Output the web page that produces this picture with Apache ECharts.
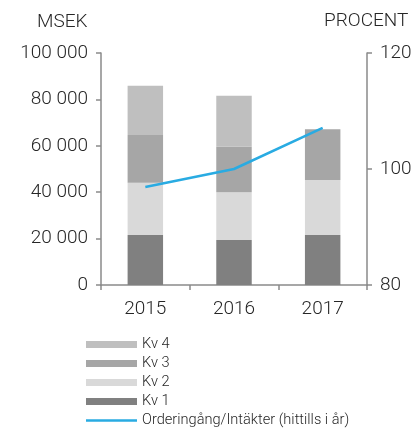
<!DOCTYPE html>
<html><head><meta charset="utf-8">
<script src="https://cdn.jsdelivr.net/npm/echarts@6/dist/echarts.min.js"></script>
<style>html,body{margin:0;padding:0;background:#fff}#c{width:415px;height:428px}</style>
</head><body><div id="c"></div>
<script>
const categories = ['2015', '2016', '2017'];
const kv1 = [21500, 19400, 21500];
const kv2 = [22600, 20600, 23800];
const kv3 = [20600, 19600, 21800];
const kv4 = [21200, 22000, null];
const orderRatio = [96.9, 100.0, 107.1];
const leftTicks = { min: 0, max: 100000, interval: 20000 };
const rightTicks = { min: 80, max: 120, interval: 20 };

const FONT = 'Roboto, "Liberation Sans", sans-serif';
const TXT = '#262626';
const AX = '#8a8a8a';
const FS = 19;
const chart = echarts.init(document.getElementById('c'), null, { renderer: 'canvas' });
const barBase = { type: 'bar', stack: 'q', barWidth: '40%', yAxisIndex: 0 };
chart.setOption({
  animation: false,
  textStyle: { fontFamily: FONT, fontWeight: 300 },
  grid: { left: 101, right: 48, top: 53, bottom: 143, containLabel: false },
  graphic: [
    { type: 'text', left: 37, top: 13, style: { text: 'MSEK', font: '300 19px ' + FONT, fill: TXT } },
    { type: 'text', left: 324, top: 12, style: { text: 'PROCENT', font: '300 19px ' + FONT, fill: TXT } }
  ],
  legend: {
    orient: 'vertical', left: 86, top: 337, height: 91, padding: 0,
    itemWidth: 51, itemHeight: 7, itemGap: 4, symbolKeepAspect: true,
    textStyle: { fontSize: 14.6, color: TXT, fontFamily: FONT, fontWeight: 300 },
    data: [
      { name: 'Kv 4', icon: 'rect' }, { name: 'Kv 3', icon: 'rect' },
      { name: 'Kv 2', icon: 'rect' }, { name: 'Kv 1', icon: 'rect' },
      { name: 'Orderingång/Intäkter (hittills i år)', icon: 'path://M0,0L51,0L51,2.5L0,2.5Z' }
    ]
  },
  xAxis: {
    type: 'category', data: categories,
    axisLine: { lineStyle: { color: AX, width: 1.5 } },
    axisTick: { show: true, alignWithLabel: false, length: 5, lineStyle: { color: AX, width: 1.5 } },
    axisLabel: { fontSize: FS, color: TXT, margin: 15, fontWeight: 300 }
  },
  yAxis: [
    { type: 'value', min: leftTicks.min, max: leftTicks.max, interval: leftTicks.interval,
      splitLine: { show: false },
      axisLine: { show: true, lineStyle: { color: AX, width: 1.5 } },
      axisTick: { show: true, length: 5, lineStyle: { color: AX, width: 1.5 } },
      axisLabel: { fontSize: FS, color: TXT, margin: 13, fontWeight: 300,
        formatter: v => String(v).replace(/\B(?=(\d{3})+(?!\d))/g, ' ') } },
    { type: 'value', position: 'right', min: rightTicks.min, max: rightTicks.max, interval: rightTicks.interval,
      splitLine: { show: false },
      axisLine: { show: true, lineStyle: { color: AX, width: 1.5 } },
      axisTick: { show: true, length: 5, lineStyle: { color: AX, width: 1.5 } },
      axisLabel: { fontSize: FS, color: TXT, margin: 13, fontWeight: 300 } }
  ],
  series: [
    Object.assign({ name: 'Kv 1', data: kv1, itemStyle: { color: '#808080' } }, barBase),
    Object.assign({ name: 'Kv 2', data: kv2, itemStyle: { color: '#d9d9d9' } }, barBase),
    Object.assign({ name: 'Kv 3', data: kv3, itemStyle: { color: '#a6a6a6' } }, barBase),
    Object.assign({ name: 'Kv 4', data: kv4, itemStyle: { color: '#bfbfbf' } }, barBase),
    { name: 'Orderingång/Intäkter (hittills i år)', type: 'line', yAxisIndex: 1, data: orderRatio,
      symbol: 'none', lineStyle: { color: '#29abe2', width: 2.5 }, itemStyle: { color: '#29abe2' } }
  ]
});
</script></body></html>
